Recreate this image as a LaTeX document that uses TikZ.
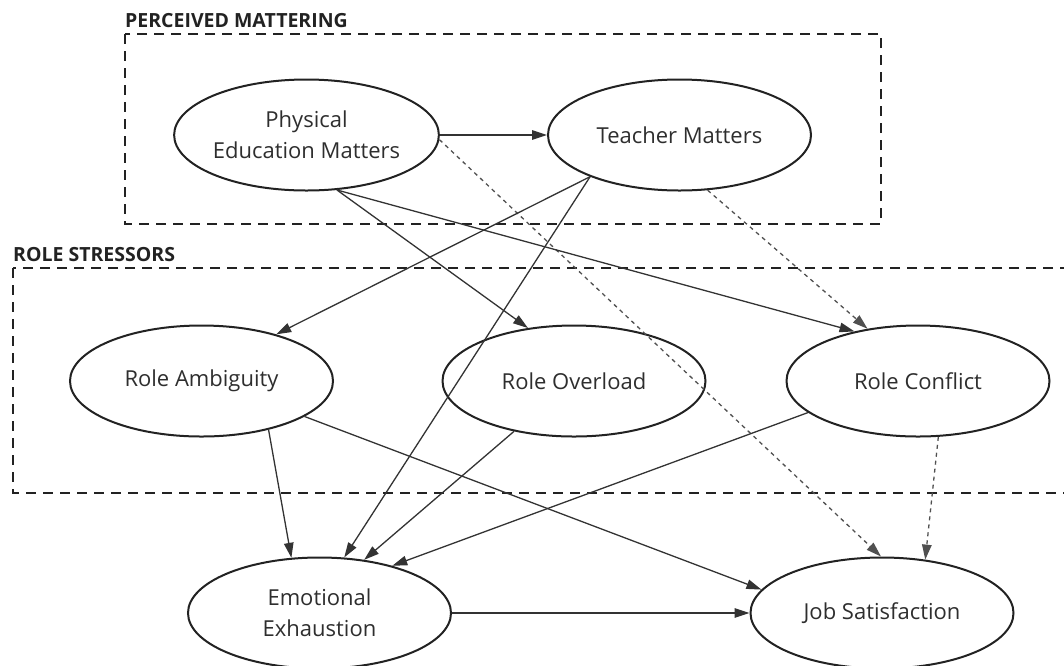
\documentclass[tikz,border=0pt]{standalone}
\usepackage{fontspec}
\setmainfont{Open Sans}
\usetikzlibrary{arrows.meta,shapes.geometric}
\definecolor{ink}{HTML}{222222}
\definecolor{linegray}{HTML}{333333}
\definecolor{txt}{HTML}{2E2E2E}
\definecolor{weakgray}{HTML}{505050}
\tikzset{
  construct/.style={ellipse, draw=ink, line width=2pt, minimum width=263pt,
    minimum height=111pt, inner sep=0pt, align=center, text=txt,
    font=\fontsize{22}{31}\selectfont},
  group/.style={draw=ink, line width=2.3pt, dash pattern=on 10pt off 7pt},
  grouplabel/.style={anchor=base west, inner sep=0pt,
    font=\bfseries\fontsize{19.5}{23}\selectfont, text=ink},
  effect/.style={draw=linegray, line width=1.3pt,
    -{Triangle[length=15pt,width=9.5pt]}},
  weakeffect/.style={effect, draw=weakgray, dash pattern=on 4pt off 4pt}
}
\begin{document}
\begin{tikzpicture}[x=1pt,y=-1pt]
  \clip (0,0) rectangle (1064,665);

  % grouping frames and their headings
  \draw[group] (125,34) rectangle (881,224);
  \node[grouplabel] (pmlabel) at (125,27) {PERCEIVED MATTERING};
  \draw[group] (13,268) rectangle (1090,493);
  \node[grouplabel] (rslabel) at (13,261) {ROLE STRESSORS};

  % latent constructs
  \node[construct] (pem) at (306.5,135) {Physical\\Education Matters};
  \node[construct] (tm)  at (679.5,135) {Teacher Matters};
  \node[construct] (ra)  at (201.5,381) {Role Ambiguity};
  \node[construct] (ro)  at (574,381)   {Role Overload};
  \node[construct] (rc)  at (918,381)   {Role Conflict};
  \node[construct] (ee)  at (319.5,613) {Emotional\\Exhaustion};
  \node[construct] (js)  at (882,613)   {Job Satisfaction};

  % paths
  \draw[effect]     (pem.east) -- (tm.west);
  \draw[weakeffect] (pem.-2)   -- (js.91);
  \draw[effect]     (pem.-61)  -- (ro.131);
  \draw[effect]     (pem.-61)  -- (rc.142);
  \draw[weakeffect] (tm.-63)   -- (rc.134);
  \draw[effect]     (tm.205)   -- (ra.32);
  \draw[effect]     (tm.205)   -- (ee.66);
  \draw[effect]     (ra.-36)   -- (ee.117);
  \draw[effect]     (ra.-19)   -- (js.169);
  \draw[effect]     (ro.220)   -- (ee.50);
  \draw[effect]     (rc.196)   -- (ee.33);
  \draw[weakeffect] (rc.-70)   -- (js.51);
  \draw[effect]     (ee.east)  -- (js.west);
\end{tikzpicture}
\end{document}
